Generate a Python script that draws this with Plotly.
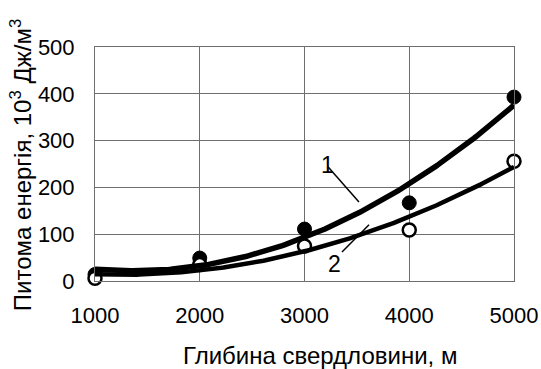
import numpy as np
import plotly.graph_objects as go

# Borehole depth, m
depth = [1000, 2000, 3000, 4000, 5000]
# Specific energy, 10^3 J/m^3
energy_1 = [14, 49, 111, 167, 393]
energy_2 = [6, 35, 75, 109, 256]

x_ticks = [1000, 2000, 3000, 4000, 5000]
y_ticks = [0, 100, 200, 300, 400, 500]

FONT = "Liberation Sans, Arial, sans-serif"

# second-order polynomial trend lines through each series
xs = np.linspace(min(depth), max(depth), 200)
trend_1 = np.polyval(np.polyfit(depth, energy_1, 2), xs)
trend_2 = np.polyval(np.polyfit(depth, energy_2, 2), xs)

fig = go.Figure()

fig.add_trace(go.Scatter(
    x=depth, y=energy_1, mode="markers",
    marker=dict(symbol="circle", size=14, color="black",
                line=dict(color="black", width=1)),
    cliponaxis=False, showlegend=False))
fig.add_trace(go.Scatter(
    x=depth, y=energy_2, mode="markers",
    marker=dict(symbol="circle", size=13, color="white",
                line=dict(color="black", width=2.5)),
    cliponaxis=False, showlegend=False))
fig.add_trace(go.Scatter(
    x=xs, y=trend_1, mode="lines",
    line=dict(color="black", width=5.5),
    cliponaxis=False, showlegend=False))
fig.add_trace(go.Scatter(
    x=xs, y=trend_2, mode="lines",
    line=dict(color="black", width=4.5),
    cliponaxis=False, showlegend=False))

# curve labels with leader lines
fig.add_annotation(x=3215, y=248, text="1", showarrow=False,
                   font=dict(family=FONT, size=23, color="black"))
fig.add_annotation(x=3282, y=36, text="2", showarrow=False,
                   font=dict(family=FONT, size=23, color="black"))
fig.add_shape(type="line", x0=3224, y0=244, x1=3520, y1=169,
              line=dict(color="black", width=1.5))
fig.add_shape(type="line", x0=3616, y0=120, x1=3358, y1=62,
              line=dict(color="black", width=1.5))

# axis titles
fig.add_annotation(
    xref="paper", yref="paper", x=-0.176, y=0.496,
    xanchor="center", yanchor="middle", textangle=-90, showarrow=False,
    text="Питома енергія, 10<sup>3</sup> Дж/м<sup>3</sup>",
    font=dict(family=FONT, size=24, color="black"))
fig.add_annotation(
    xref="paper", yref="paper", x=0.537, y=-0.318,
    xanchor="center", yanchor="middle", showarrow=False,
    text="Глибина свердловини, м",
    font=dict(family=FONT, size=24, color="black"))

fig.update_layout(
    width=541, height=369,
    margin=dict(l=95, r=27, t=47, b=88),
    paper_bgcolor="white", plot_bgcolor="white",
    font=dict(family=FONT, size=22, color="black"),
    xaxis=dict(
        range=[1000, 5000], tickvals=x_ticks,
        showgrid=True, gridcolor="#6e6e6e", gridwidth=1,
        showline=True, linecolor="#6e6e6e", linewidth=1,
        mirror=True, zeroline=False, ticks="",
        tickfont=dict(size=22),
        ticklabelstandoff=15, automargin=False,
    ),
    yaxis=dict(
        range=[0, 500], tickvals=y_ticks,
        showgrid=True, gridcolor="#6e6e6e", gridwidth=1,
        showline=True, linecolor="#6e6e6e", linewidth=1,
        mirror=True, zeroline=False, ticks="",
        tickfont=dict(size=22),
        ticklabelstandoff=15, automargin=False,
    ),
)

fig.write_html("out.html")
